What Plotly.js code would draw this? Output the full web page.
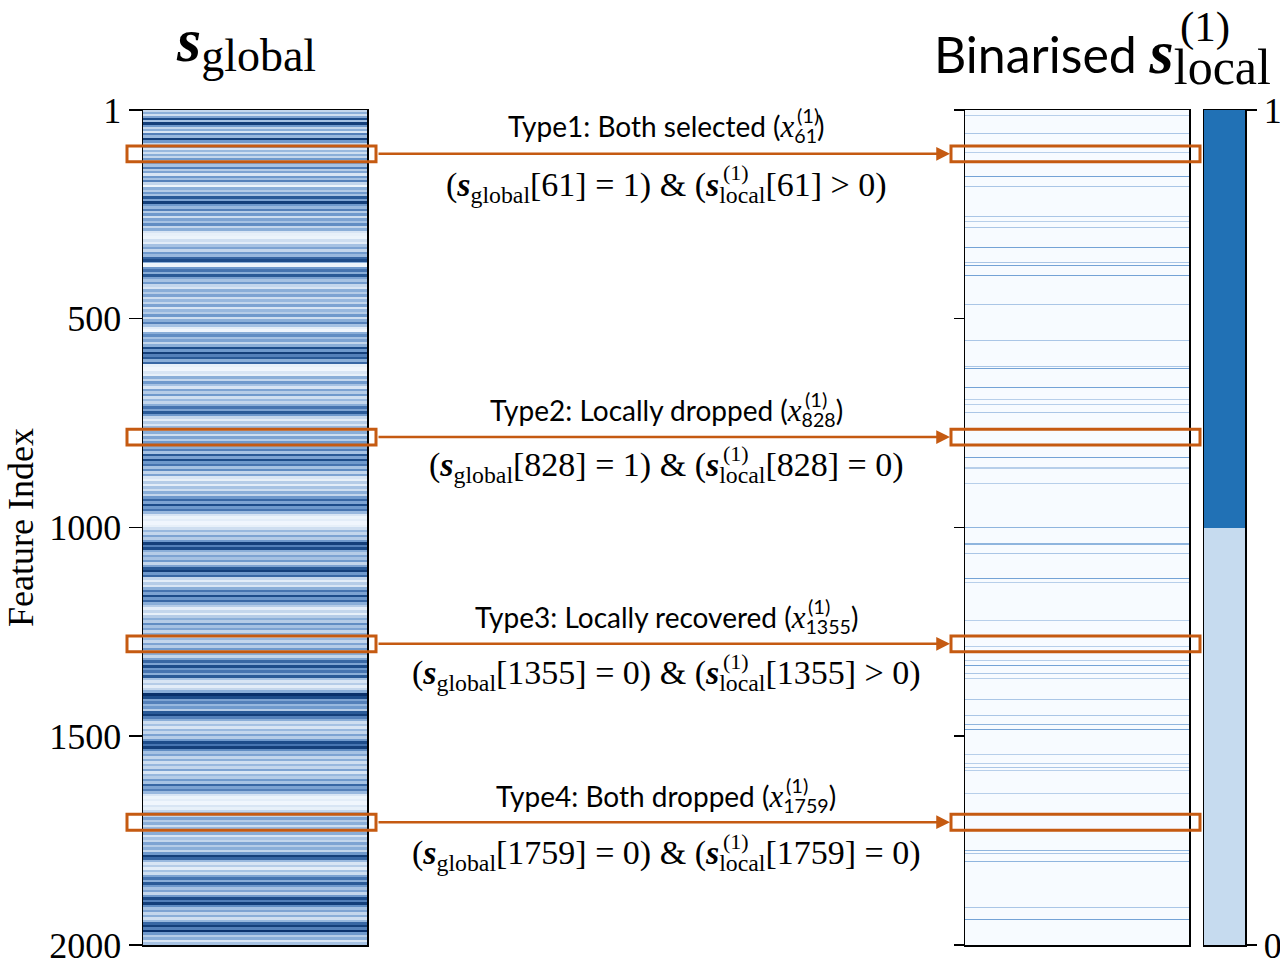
<!DOCTYPE html>
<html><head><meta charset="utf-8">
<script src="https://cdn.plot.ly/plotly-3.0.1.min.js"></script>
<style>html,body{margin:0;padding:0;background:#fff}#chart{width:1280px;height:962px}</style>
</head><body><div id="chart"></div>
<script>
// ---------------- data ----------------
const featureTicks = [1, 500, 1000, 1500, 2000];
const featureCount = 2000;

// s_global: bands of rows (start row) and their value (0..1)
const globalBandStart = [1,6,10,15,19,25,30,36,41,47,52,57,62,67,74,80,86,91,96,
101,106,111,116,121,126,131,137,142,148,153,158,163,168,174,180,186,192,197,203,208,214,219,225,
231,237,243,248,254,260,266,272,278,284,290,296,302,310,316,322,
328,334,340,346,352,358,364,368,376,382,388,394,400,406,412,418,424,430,436,442,448,454,
460,466,472,478,484,490,496,502,508,514,520,526,532,538,544,550,556,562,
568,574,580,586,592,598,604,610,617,626,632,
638,644,650,656,662,668,674,680,686,692,698,704,710,716,722,728,734,740,746,752,758,764,
770,776,782,788,794,800,806,812,818,824,830,836,842,848,854,860,866,872,878,884,890,896,902,908,914,920,
926,932,938,944,950,956,962,968,974,980,986,994,1000,
1006,1012,1018,1024,1030,1036,1042,1048,1054,1060,1066,1072,1078,1084,1090,1096,1102,1108,1114,1120,1126,1132,1138,1144,1150,1156,1162,1168,1174,1180,1186,
1192,1198,1204,1210,1216,1222,1228,1234,1240,1246,1252,1258,1264,1270,1276,1282,1288,1294,1300,1306,1312,
1318,1324,1330,1336,1342,1348,1354,1360,1366,1372,1378,1384,1390,1396,1404,1410,1416,1422,1428,1434,1440,1446,1452,1458,1464,
1470,1476,1482,1488,1494,1500,1506,1512,1518,1524,1530,1536,1542,1548,1554,1560,1566,1572,1578,1584,1590,1596,1602,1608,1614,1620,1626,1632,
1638,1644,1650,1656,1664,1670,1676,1682,1688,1694,1700,1706,1712,1718,1724,1730,1736,1742,1748,1754,1760,1766,1772,
1778,1784,1790,1796,1802,1808,1814,1820,1826,1832,1838,1844,1850,1856,1862,1868,1874,1880,1886,1892,1898,1904,1910,1916,1922,1928,1934,1940,1946,1952,1958,1964,1970,1976,1982,1988,1994];
const globalBandValue = [0.3,0.5,0.25,0.55,0.9,0.4,0.95,0.6,0.3,0.5,0.2,0.7,0.45,0.95,0.6,0.3,0.5,0.2,0.45,
0.25,0.5,0.3,0.6,0.25,0.55,0.4,0.7,0.35,0.55,0.2,0.6,0.4,0.7,0.3,0.08,0.5,0.35,0.6,0.4,0.85,0.55,0.95,0.6,
0.45,0.7,0.35,0.6,0.25,0.55,0.4,0.65,0.3,0.5,0.2,0.12,0.08,0.25,0.15,0.4,
0.55,0.3,0.6,0.45,0.8,0.9,0.5,0.08,0.6,0.75,0.5,0.85,0.55,0.4,0.6,0.3,0.2,0.5,0.35,0.55,0.25,0.45,
0.3,0.55,0.2,0.45,0.35,0.6,0.25,0.5,0.7,0.4,0.15,0.05,0.5,0.65,0.4,0.55,0.3,0.5,
0.9,0.6,0.95,0.7,0.85,0.5,0.8,0.12,0.05,0.2,0.12,
0.5,0.3,0.6,0.4,0.2,0.55,0.35,0.6,0.25,0.45,0.3,0.5,0.75,0.55,0.85,0.6,0.3,0.15,0.35,0.2,0.45,0.3,
0.5,0.25,0.55,0.35,0.6,0.3,0.5,0.7,0.4,0.85,0.55,0.9,0.6,0.75,0.4,0.65,0.3,0.55,0.2,0.12,0.35,0.15,0.4,0.25,0.5,0.3,
0.6,0.8,0.55,0.9,0.6,0.75,0.45,0.2,0.08,0.15,0.05,0.12,0.25,
0.45,0.3,0.55,0.35,0.6,0.95,0.7,0.9,0.5,0.35,0.55,0.4,0.6,0.3,0.55,0.85,0.95,0.6,0.8,0.3,0.15,0.35,0.2,0.5,0.75,0.55,0.9,0.6,0.8,0.5,0.35,
0.15,0.3,0.12,0.35,0.5,0.35,0.65,0.4,0.55,0.3,0.5,0.25,0.45,0.3,0.55,0.35,0.6,0.25,0.5,0.3,0.55,
0.8,0.55,0.9,0.6,0.75,0.5,0.85,0.4,0.2,0.35,0.15,0.3,0.5,1.0,0.9,0.55,0.7,0.45,0.6,0.35,0.85,0.95,0.7,0.5,0.25,
0.4,0.2,0.45,0.3,0.55,0.35,0.6,0.9,0.75,0.95,0.65,0.4,0.55,0.3,0.5,0.25,0.45,0.3,0.55,0.2,0.45,0.35,0.6,0.4,0.8,0.55,0.7,0.45,
0.2,0.08,0.15,0.05,0.2,0.12,0.3,0.45,0.3,0.55,0.35,0.5,0.25,0.45,0.3,0.5,0.2,0.4,0.3,0.55,0.35,0.5,0.3,
0.6,0.95,0.8,0.45,0.2,0.35,0.15,0.4,0.25,0.55,0.75,0.5,0.85,0.6,0.4,0.55,0.3,0.6,0.9,0.7,0.95,0.65,0.4,0.55,0.3,0.5,0.25,0.45,0.8,0.95,0.7,1.0,0.6,0.35,0.5,0.2,0.4];

// binarised s_local^(1): rows that are drawn as lines and their shade
const localLineIndex = [15,58,103,161,185,256,269,283,331,365,374,398,467,553,614,619,665,695,707,726,801,832,858,896,1001,1040,1063,1122,1132,1222,1285,1318,1332,1351,1363,1413,1451,1473,1485,1545,1566,1575,1583,1638,1774,1782,1799,1911,1938];
const localLineValue = [0.5,0.6,0.5,1,0.6,0.6,0.5,0.6,1,0.6,1,1,0.6,0.6,0.6,1,1,0.5,0.5,0.6,0.5,1,0.5,0.5,0.8,0.8,0.6,1,0.5,0.5,0.5,0.5,1,0.6,0.5,0.6,0.6,0.8,1,0.5,0.5,0.6,0.5,0.5,0.8,0.6,0.8,0.6,1];

// colour bar
const colorbarValues = [0, 1];
const colorbarTickVals = [0, 1];
const colorbarTickText = ['0', '1'];

// highlighted features
const highlightType = ['Type1: Both selected', 'Type2: Locally dropped', 'Type3: Locally recovered', 'Type4: Both dropped'];
const highlightFeature = [61, 828, 1355, 1759];
const globalState = ['1', '1', '0', '0'];
const localRelation = ['&gt;', '=', '&gt;', '='];

// ---------------- styling / layout ----------------
const W = 1280, H = 962;
const SANS = 'Lato, "Open Sans", sans-serif';
const SERIF = '"Liberation Serif", "Times New Roman", serif';
const ORANGE = '#C55A11';
const px = v => v / W;
const py = v => 1 - v / H;
const yDom = [py(945), py(110)];

const bluesGlobal = [[0,'#f7fbff'],[0.15,'#e3edf8'],[0.3,'#c3d6ec'],[0.45,'#98b8de'],[0.6,'#6f99cc'],[0.75,'#4674b0'],[0.88,'#215290'],[1,'#0a316b']];

const globalEdges = globalBandStart.concat([featureCount]);
const globalZ = globalBandValue.map(v => [v]);

const halfLine = 1.25;
const localEdges = [1];
const localZ = [];
localLineIndex.forEach((c, i) => {
  localZ.push([0]); localEdges.push(c - halfLine);
  localZ.push([localLineValue[i]]); localEdges.push(c + halfLine);
});
localZ.push([0]); localEdges.push(featureCount);

const traces = [
  {type:'heatmap', x:[0,1], y:globalEdges, z:globalZ, colorscale:bluesGlobal, zmin:0, zmax:1, showscale:false, xaxis:'x', yaxis:'y', hoverinfo:'skip'},
  {type:'heatmap', x:[0,1], y:localEdges, z:localZ, colorscale:[[0,'#f7fbff'],[0.5,'#b7cfea'],[1,'#74a3d6']], zmin:0, zmax:1, showscale:false, xaxis:'x2', yaxis:'y2', hoverinfo:'skip'},
  {type:'heatmap', x:[0,1], y:[0,0.5,1], z:colorbarValues.map(v=>[v]), colorscale:[[0,'#c6dbef'],[1,'#2171b5']], zmin:0, zmax:1, showscale:false, xaxis:'x3', yaxis:'y3', hoverinfo:'skip'}
];

const frame = {showline:true, mirror:true, linecolor:'#000', linewidth:1.5, showgrid:false, zeroline:false, fixedrange:true, ticklabeloverflow:'allow'};

const layout = {
  width:W, height:H, margin:{l:0,r:0,t:0,b:0}, paper_bgcolor:'#fff', plot_bgcolor:'#fff', showlegend:false,
  xaxis: Object.assign({domain:[px(143), px(367)], anchor:'y', range:[0,1], showticklabels:false, ticks:''}, frame),
  yaxis: Object.assign({domain:yDom, anchor:'x', range:[featureCount,1], tickvals:featureTicks, ticktext:featureTicks.map(String), ticks:'outside', ticklen:13, tickwidth:1.5, tickcolor:'#000',
    tickfont:{family:SERIF, size:36, color:'#000'}, title:{text:'Feature Index', font:{family:SERIF, size:36, color:'#000'}, standoff:4}}, frame),
  xaxis2: Object.assign({domain:[px(965), px(1189)], anchor:'y2', range:[0,1], showticklabels:false, ticks:''}, frame),
  yaxis2: Object.assign({domain:yDom, anchor:'x2', range:[featureCount,1], tickvals:featureTicks, ticks:'outside', ticklen:10, tickwidth:1.5, tickcolor:'#000', showticklabels:false}, frame),
  xaxis3: Object.assign({domain:[px(1204), px(1245)], anchor:'y3', range:[0,1], showticklabels:false, ticks:''}, frame),
  yaxis3: Object.assign({domain:yDom, anchor:'x3', side:'right', range:[0,1], tickvals:colorbarTickVals, ticktext:colorbarTickText, ticks:'outside', ticklen:10, tickwidth:1.5, tickcolor:'#000',
    tickfont:{family:SERIF, size:36, color:'#000'}}, frame),
  shapes: [], annotations: []
};

// titles
layout.annotations.push({xref:'paper', yref:'paper', x:px(246), y:py(43), xanchor:'center', yanchor:'middle', showarrow:false,
  font:{family:SERIF, size:46, color:'#000'},
  text:'<span style="font-size:62px"><b><i>s</i></b></span><sub><span style="font-size:46px">global</span></sub>'});
layout.annotations.push({xref:'paper', yref:'paper', x:px(932), y:py(56), xanchor:'left', yanchor:'middle', showarrow:false,
  font:{family:SANS, size:50, color:'#000'},
  text:'Binarised <span style="font-family:\'Liberation Serif\';font-size:62px"><b><i>s</i></b></span><sub><span style="font-family:\'Liberation Serif\';font-size:50px">local</span></sub>'});
layout.annotations.push({xref:'paper', yref:'paper', x:px(1185), y:py(27), xanchor:'left', yanchor:'middle', showarrow:false,
  font:{family:SERIF, size:43, color:'#000'}, text:'(1)'});

// highlight rectangles, arrows and labels (pixel positions)
const rowCenter = [106, 784, 1279, 1706];
const rowHalf = 19;
const labelY = [128, 412, 619, 798];
const formulaY = [187, 467, 675, 855];
const supLinks = [{ann:1, sup:2, word:'local', dx:4}];

highlightFeature.forEach((f, i) => {
  const c = rowCenter[i];
  layout.shapes.push({type:'rect', xref:'paper', yref:'y', x0:px(127), x1:px(376), y0:c-rowHalf, y1:c+rowHalf, line:{color:ORANGE, width:3}, fillcolor:'rgba(0,0,0,0)'});
  layout.shapes.push({type:'rect', xref:'paper', yref:'y2', x0:px(951), x1:px(1200), y0:c-rowHalf, y1:c+rowHalf, line:{color:ORANGE, width:3}, fillcolor:'rgba(0,0,0,0)'});
  layout.annotations.push({xref:'paper', yref:'y', x:px(950), y:c, ax:-(950-377), ay:0, axref:'pixel', ayref:'pixel', text:'', showarrow:true,
    arrowhead:2, arrowsize:1.1, arrowwidth:2.5, arrowcolor:ORANGE, standoff:0, startstandoff:0});
  const labelIdx = layout.annotations.length;
  layout.annotations.push({xref:'paper', yref:'paper', x:px(666), y:py(labelY[i]), xanchor:'center', yanchor:'middle', showarrow:false,
    font:{family:SANS, size:28, color:'#000'},
    text: highlightType[i] + ' (<span style="font-family:\'Liberation Serif\';font-size:31px"><i>x</i></span><sub>' + f + '</sub>)'});
  layout.annotations.push({xref:'paper', yref:'paper', x:px(800), y:py(labelY[i]-13), xanchor:'left', yanchor:'middle', showarrow:false,
    font:{family:SANS, size:20, color:'#000'}, text:'(1)'});
  supLinks.push({ann:labelIdx, sup:labelIdx+1, word:String(f), dx:1});
  const formIdx = layout.annotations.length;
  layout.annotations.push({xref:'paper', yref:'paper', x:px(666), y:py(formulaY[i]), xanchor:'center', yanchor:'middle', showarrow:false,
    font:{family:SERIF, size:34, color:'#000'},
    text:'(<b><i>s</i></b><sub>global</sub>[' + f + '] = ' + globalState[i] + ') &amp; (<b><i>s</i></b><sub>local</sub>[' + f + '] ' + localRelation[i] + ' 0)'});
  layout.annotations.push({xref:'paper', yref:'paper', x:px(735), y:py(formulaY[i]-14), xanchor:'left', yanchor:'middle', showarrow:false,
    font:{family:SERIF, size:22, color:'#000'}, text:'(1)'});
  supLinks.push({ann:formIdx, sup:formIdx+1, word:'local', dx:2});
});

const gd = document.getElementById('chart');
Plotly.newPlot(gd, traces, layout, {displayModeBar:false, staticPlot:true}).then(() => {
  // stack each "(1)" superscript above the start of its subscript
  const upd = {};
  supLinks.forEach(l => {
    const t = gd.querySelector('.annotation[data-index="' + l.ann + '"] text.annotation-text');
    if (!t) return;
    const k = t.textContent.lastIndexOf(l.word);
    if (k < 0) return;
    try {
      const p = t.getStartPositionOfChar(k);
      const m = t.getCTM();
      const x = m.a * p.x + m.c * p.y + m.e;
      upd['annotations[' + l.sup + '].x'] = (x + l.dx) / W;
    } catch (e) {}
  });
  return Plotly.relayout(gd, upd);
});
</script>
</body></html>
